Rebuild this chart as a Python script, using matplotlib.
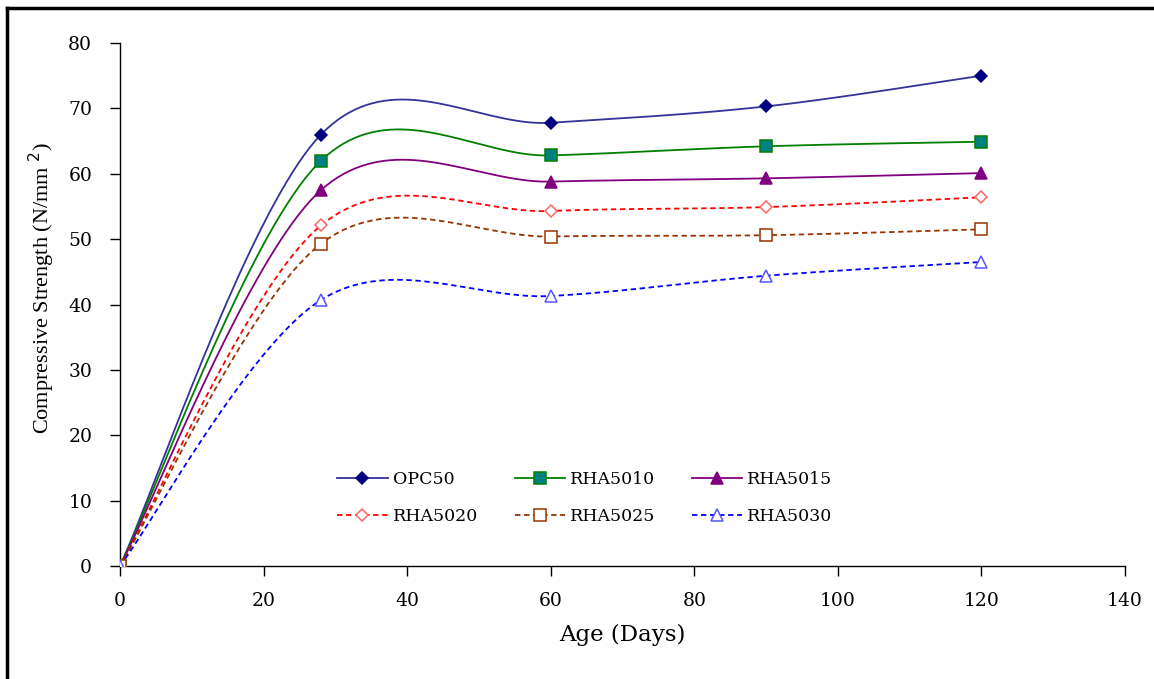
import numpy as np
import matplotlib
matplotlib.use("Agg")
import matplotlib.pyplot as plt
from matplotlib.lines import Line2D

# ---- data ----
age = [0, 28, 60, 90, 120]
opc50 = [0, 66.0, 67.8, 70.3, 75.0]
rha5010 = [0, 62.0, 62.8, 64.2, 64.9]
rha5015 = [0, 57.5, 58.8, 59.3, 60.1]
rha5020 = [0, 52.1, 54.3, 54.9, 56.4]
rha5025 = [0, 49.3, 50.4, 50.6, 51.5]
rha5030 = [0, 40.7, 41.3, 44.4, 46.5]
series_names = ["OPC50", "RHA5010", "RHA5015", "RHA5020", "RHA5025", "RHA5030"]
x_ticks = [0, 20, 40, 60, 80, 100, 120, 140]
y_ticks = [0, 10, 20, 30, 40, 50, 60, 70, 80]

plt.rcParams['font.family'] = ['DejaVu Serif', 'Liberation Serif']


def smooth(xs, ys, n=40):
    """Excel-style smoothed line (Catmull-Rom Bezier) through the points."""
    P = np.column_stack([xs, ys]).astype(float)
    m = len(P)
    out = [P[0]]
    t = np.linspace(0, 1, n)[1:, None]
    for i in range(m - 1):
        p0 = P[i]
        p3 = P[i + 1]
        pm = P[i - 1] if i > 0 else P[i]
        pn = P[i + 2] if i + 2 < m else P[i + 1]
        c1 = p0 + (p3 - pm) / 6.0
        c2 = p3 - (pn - p0) / 6.0
        seg = ((1 - t) ** 3) * p0 + 3 * ((1 - t) ** 2) * t * c1 + 3 * (1 - t) * t ** 2 * c2 + t ** 3 * p3
        out.extend(seg)
    out = np.array(out)
    return out[:, 0], out[:, 1]


dash = (0, (3, 2))
styles = [
    dict(color="#333399", ls="-", marker="D", mfc="#000080", mec="#000080", ms=6),
    dict(color="#008000", ls="-", marker="s", mfc="#008080", mec="#008000", ms=8.5),
    dict(color="#800080", ls="-", marker="^", mfc="#800080", mec="#800080", ms=9),
    dict(color="#FF0000", ls=dash, marker="D", mfc="white", mec="#FF6666", ms=6),
    dict(color="#993300", ls=dash, marker="s", mfc="white", mec="#993300", ms=8.5),
    dict(color="#0000FF", ls=dash, marker="^", mfc="white", mec="#5555FF", ms=9),
]
data = [opc50, rha5010, rha5015, rha5020, rha5025, rha5030]

fig = plt.figure(figsize=(11.54, 6.79), dpi=100)
ax = fig.add_axes([120 / 1154, 1 - 566 / 679, (1125 - 120) / 1154, (566 - 43) / 679])

handles = []
for name, ys, st in zip(series_names, data, styles):
    sx, sy = smooth(age, ys)
    ax.plot(sx, sy, color=st["color"], ls=st["ls"], lw=1.3, zorder=2)
    ax.plot(age, ys, ls="none", marker=st["marker"], mfc=st["mfc"], mec=st["mec"],
            ms=st["ms"], mew=1.1, zorder=3)
    handles.append(Line2D([], [], color=st["color"], ls=st["ls"], lw=1.3,
                          marker=st["marker"], mfc=st["mfc"], mec=st["mec"],
                          ms=st["ms"], mew=1.1, label=name))

ax.set_xlim(0, 140)
ax.set_ylim(0, 80)
ax.set_xticks(x_ticks)
ax.set_yticks(y_ticks)
for s in ["top", "right"]:
    ax.spines[s].set_visible(False)
for s in ["left", "bottom"]:
    ax.spines[s].set_color("black")
    ax.spines[s].set_linewidth(1.0)
ax.tick_params(axis="both", direction="out", length=7, width=1, labelsize=13.5)
ax.tick_params(axis="y", pad=13)
ax.tick_params(axis="x", pad=12)
ax.set_xlabel("Age (Days)", fontsize=16.5, labelpad=10)
ax.set_ylabel("Compressive Strength (N/mm $^{2}$)", fontsize=16,
              family="Liberation Serif")
ax.yaxis.set_label_coords((57 - 120) / 1005, (566 - 288) / 523)

# row-major legend order (matplotlib fills legend columns first)
order = [0, 3, 1, 4, 2, 5]
leg = ax.legend(handles=[handles[i] for i in order], ncol=3, loc="center",
                bbox_to_anchor=(585 / 1154, 1 - 498 / 679),
                bbox_transform=fig.transFigure, frameon=False, fontsize=12.5,
                handlelength=2.9, columnspacing=2.1, labelspacing=1.15, handletextpad=0.3)

# outer frame (left and top edges visible)
fig.add_artist(Line2D([7 / 1154, 7 / 1154], [0, 1 - 8 / 679], color="black", lw=2.5,
                      transform=fig.transFigure))
fig.add_artist(Line2D([7 / 1154, 1], [1 - 8 / 679, 1 - 8 / 679], color="black", lw=2.5,
                      transform=fig.transFigure))

fig.savefig("out.png", dpi=100)
